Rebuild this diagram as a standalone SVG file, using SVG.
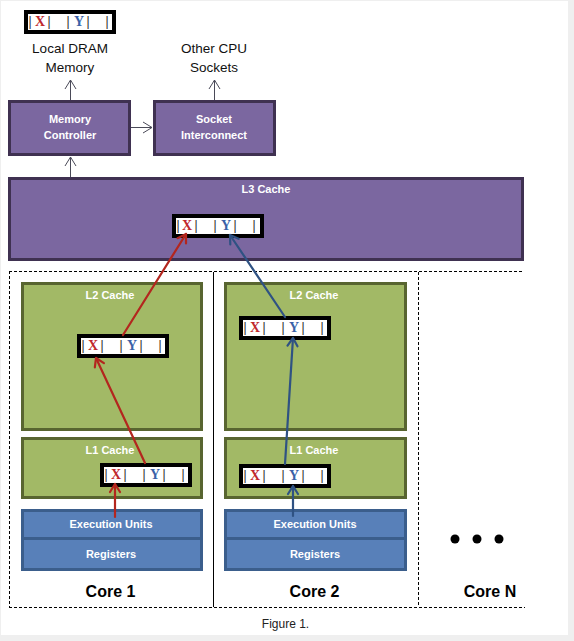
<svg xmlns="http://www.w3.org/2000/svg" width="574" height="641" viewBox="0 0 574 641">
<style>
.purple{fill:#7b67a0;stroke:#3f3151;stroke-width:3}
.green{fill:#a2b966;stroke:#586530;stroke-width:3}
.blue{fill:#5880b9;stroke:#3b5e8c;stroke-width:3}
.line{fill:#fff;stroke:#000;stroke-width:4}
.lbl{font-family:"Liberation Sans",Arial,sans-serif;font-weight:bold;font-size:11px;fill:#fff;text-anchor:middle}
.big{font-family:"Liberation Sans",Arial,sans-serif;font-size:13.5px;fill:#111;text-anchor:middle}
.core{font-family:"Liberation Sans",Arial,sans-serif;font-weight:bold;font-size:16px;fill:#000;text-anchor:middle}
.cl{font-family:"Liberation Serif","Times New Roman",serif;font-weight:bold;font-size:14px;fill:#2a2a2a;text-anchor:middle}
.x{fill:#c0282d}.y{fill:#3a62a8}
.dash{stroke:#000;stroke-width:1;stroke-dasharray:3,2;fill:none}
.gray{stroke:#4a4a58;stroke-width:1;fill:none}
.red{stroke:#b3261e;stroke-width:2.2;fill:none;stroke-linecap:round}
.blu{stroke:#2f5283;stroke-width:2.2;fill:none;stroke-linecap:round}
</style>
<defs>
<marker id="mg" markerUnits="userSpaceOnUse" markerWidth="20" markerHeight="20" refX="0" refY="0" viewBox="-10 -10 20 20" orient="auto"><path d="M-9,-5.5 L0,0 L-9,5.5" fill="none" stroke="#4a4a58" stroke-width="1"/></marker>
<marker id="mr" markerUnits="userSpaceOnUse" markerWidth="20" markerHeight="20" refX="0" refY="0" viewBox="-10 -10 20 20" orient="auto"><path d="M-8,-5 L0,0 L-8,5" fill="none" stroke="#b3261e" stroke-width="2.2" stroke-linejoin="round" stroke-linecap="round"/></marker>
<marker id="mb" markerUnits="userSpaceOnUse" markerWidth="20" markerHeight="20" refX="0" refY="0" viewBox="-10 -10 20 20" orient="auto"><path d="M-8,-5 L0,0 L-8,5" fill="none" stroke="#2f5283" stroke-width="2.2" stroke-linejoin="round" stroke-linecap="round"/></marker>
</defs>
<rect x="0" y="0" width="574" height="641" fill="#efefef"/>
<rect x="1" y="1" width="567" height="634" fill="#fff"/>

<g id="core-frames">
<line class="dash" x1="9" y1="271.5" x2="524" y2="271.5"/>
<line class="dash" x1="9" y1="607.5" x2="525" y2="607.5"/>
<line class="dash" x1="9.5" y1="271" x2="9.5" y2="608"/>
<line x1="213.5" y1="272" x2="213.5" y2="607" stroke="#000" stroke-width="1"/>
<line class="dash" x1="418.5" y1="272" x2="418.5" y2="607"/>
</g>

<g id="dram">
<rect class="line" x="26" y="12" width="88" height="20"/>
<text class="cl" x="30 40 49 68 79 88 107" y="26">|<tspan class="x">X</tspan>||<tspan class="y">Y</tspan>||</text>
<text class="big" x="70" y="53">Local DRAM</text>
<text class="big" x="70" y="72">Memory</text>
</g>
<g id="other-sockets">
<text class="big" x="214" y="53">Other CPU</text>
<text class="big" x="214" y="72">Sockets</text>
</g>
<g id="memory-controller">
<rect class="purple" x="9.5" y="101.5" width="120" height="53"/>
<text class="lbl" x="70" y="123">Memory</text>
<text class="lbl" x="70" y="139">Controller</text>
</g>
<g id="socket-interconnect">
<rect class="purple" x="154.5" y="101.5" width="120" height="53"/>
<text class="lbl" x="214" y="123">Socket</text>
<text class="lbl" x="214" y="139">Interconnect</text>
</g>
<g id="l3">
<rect class="purple" x="9.5" y="178.5" width="513" height="81"/>
<text class="lbl" x="266" y="193">L3 Cache</text>
<rect class="line" x="174" y="216" width="88" height="20"/>
<text class="cl" x="178 187 196 215 226 235 254" y="230">|<tspan class="x">X</tspan>||<tspan class="y">Y</tspan>||</text>
</g>

<g id="core1">
<rect class="green" x="22.5" y="283.5" width="179" height="146"/>
<text class="lbl" x="110" y="299">L2 Cache</text>
<rect class="line" x="79" y="336" width="88" height="20"/>
<text class="cl" x="83 93 102 121 132 141 160" y="350">|<tspan class="x">X</tspan>||<tspan class="y">Y</tspan>||</text>
<rect class="green" x="22.5" y="438.5" width="179" height="59"/>
<text class="lbl" x="110" y="454">L1 Cache</text>
<rect class="line" x="102" y="465" width="88" height="20"/>
<text class="cl" x="106 116 125 144 155 164 183" y="479">|<tspan class="x">X</tspan>||<tspan class="y">Y</tspan>||</text>
<rect class="blue" x="22.5" y="510.5" width="179" height="28"/>
<text class="lbl" x="111" y="528">Execution Units</text>
<rect class="blue" x="22.5" y="538.5" width="179" height="31"/>
<text class="lbl" x="111" y="558">Registers</text>
<text class="core" x="110.5" y="597">Core 1</text>
</g>

<g id="core2">
<rect class="green" x="225.5" y="283.5" width="180" height="146"/>
<text class="lbl" x="314" y="299">L2 Cache</text>
<rect class="line" x="241" y="318" width="88" height="20"/>
<text class="cl" x="245 255 264 283 294 303 322" y="332">|<tspan class="x">X</tspan>||<tspan class="y">Y</tspan>||</text>
<rect class="green" x="225.5" y="438.5" width="180" height="59"/>
<text class="lbl" x="314" y="454">L1 Cache</text>
<rect class="line" x="241" y="466" width="88" height="20"/>
<text class="cl" x="245 255 264 283 294 303 322" y="480">|<tspan class="x">X</tspan>||<tspan class="y">Y</tspan>||</text>
<rect class="blue" x="225.5" y="510.5" width="180" height="28"/>
<text class="lbl" x="315" y="528">Execution Units</text>
<rect class="blue" x="225.5" y="538.5" width="180" height="31"/>
<text class="lbl" x="315" y="558">Registers</text>
<text class="core" x="314.5" y="597">Core 2</text>
</g>

<g id="coreN">
<circle cx="455" cy="539" r="4.5" fill="#000"/>
<circle cx="477" cy="539" r="4.5" fill="#000"/>
<circle cx="499" cy="539" r="4.5" fill="#000"/>
<text class="core" x="490" y="597">Core N</text>
</g>

<g id="connectors">
<line class="gray" x1="70.5" y1="100" x2="70.5" y2="80" marker-end="url(#mg)"/>
<line class="gray" x1="214.5" y1="100" x2="214.5" y2="80" marker-end="url(#mg)"/>
<line class="gray" x1="131" y1="127.5" x2="152" y2="127.5" marker-end="url(#mg)"/>
<line class="gray" x1="70.5" y1="177" x2="70.5" y2="157" marker-end="url(#mg)"/>
<line class="red" x1="115" y1="517" x2="115" y2="484" marker-end="url(#mr)"/>
<line class="red" x1="145" y1="463" x2="96" y2="358" marker-end="url(#mr)"/>
<line class="red" x1="123" y1="335" x2="186" y2="234" marker-end="url(#mr)"/>
<line class="blu" x1="293" y1="516" x2="293" y2="486" marker-end="url(#mb)"/>
<line class="blu" x1="285" y1="464" x2="293" y2="338" marker-end="url(#mb)"/>
<line class="blu" x1="285" y1="317" x2="230" y2="235" marker-end="url(#mb)"/>
</g>

<text x="285.5" y="627.5" font-family="'Liberation Sans',Arial,sans-serif" font-size="12" fill="#222" text-anchor="middle">Figure 1.</text>
</svg>
